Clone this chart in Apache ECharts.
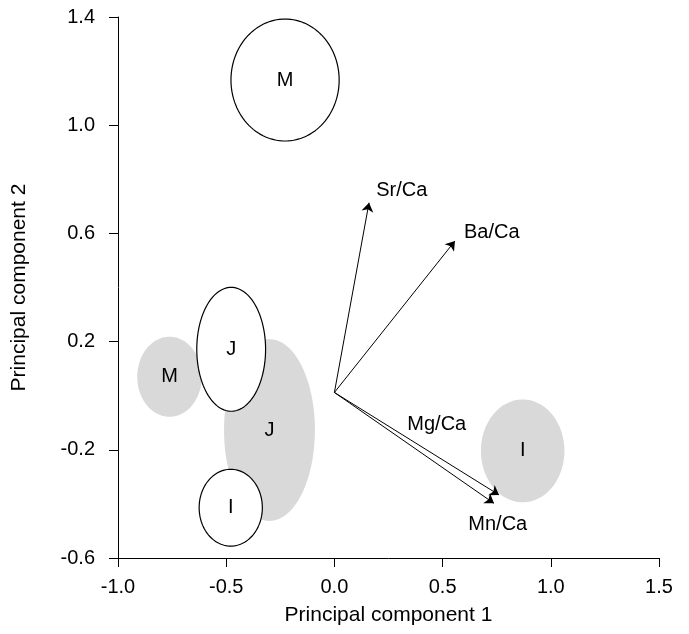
<!DOCTYPE html>
<html>
<head>
<meta charset="utf-8">
<style>
  html, body { margin: 0; padding: 0; background: #fff; }
  #chart { width: 689px; height: 634px; }
</style>
<script src="https://cdn.jsdelivr.net/npm/echarts@6/dist/echarts.min.js"></script>
</head>
<body>
<div id="chart"></div>
<script>
// ---- data ----
var xTicks = [-1.0, -0.5, 0.0, 0.5, 1.0, 1.5];
var yTicks = [-0.6, -0.2, 0.2, 0.6, 1.0, 1.4];

// group ellipses: label, centre x, centre y, radius x, radius y
var greyLabels = ['M', 'J', 'I'];
var greyCx = [-0.762, -0.300, 0.870];
var greyCy = [0.070, -0.127, -0.204];
var greyRx = [0.149, 0.210, 0.193];
var greyRy = [0.148, 0.336, 0.190];

var whiteLabels = ['M', 'J', 'I'];
var whiteCx = [-0.228, -0.477, -0.479];
var whiteCy = [1.167, 0.1715, -0.414];
var whiteRx = [0.250, 0.159, 0.146];
var whiteRy = [0.2255, 0.229, 0.142];

// loading vectors
var vecNames = ['Sr/Ca', 'Ba/Ca', 'Mg/Ca', 'Mn/Ca'];
var vecOrigin = [0, 0.012];
var vecX = [0.160, 0.557, 0.761, 0.7375];
var vecY = [0.7135, 0.572, -0.367, -0.398];
// label anchor points (data units)
var vecLabelX = [0.311, 0.727, 0.473, 0.755];
var vecLabelY = [0.760, 0.604, -0.106, -0.4755];

// ---- build ----
var font = 'Liberation Sans, Arial, sans-serif';

function ellipseData(labels, cx, cy, rx, ry) {
  return labels.map(function (l, i) { return [cx[i], cy[i], rx[i], ry[i], l]; });
}
function ellipseRender(fill, stroke) {
  return function (params, api) {
    var cx = api.value(0), cy = api.value(1), rx = api.value(2), ry = api.value(3);
    var pts = [];
    var n = 120;
    for (var k = 0; k < n; k++) {
      var t = 2 * Math.PI * k / n;
      pts.push(api.coord([cx + rx * Math.cos(t), cy + ry * Math.sin(t)]));
    }
    var c = api.coord([cx, cy]);
    return {
      type: 'group',
      children: [
        { type: 'polygon', shape: { points: pts },
          style: { fill: fill, stroke: stroke, lineWidth: 1.2 } },
        { type: 'text', x: c[0], y: c[1],
          style: { text: api.value(4), fill: '#000', fontSize: 20, fontFamily: font,
                   align: 'center', verticalAlign: 'middle' } }
      ]
    };
  };
}

var lineData = vecNames.map(function (n, i) {
  return { coords: [vecOrigin, [vecX[i], vecY[i]]] };
});
var vecLabelData = vecNames.map(function (n, i) { return [vecLabelX[i], vecLabelY[i], n]; });

var chart = echarts.init(document.getElementById('chart'));
chart.setOption({
  animation: false,
  backgroundColor: '#fff',
  grid: { left: 118, right: 30, top: 17, bottom: 76 },
  xAxis: {
    type: 'value', min: -1.0, max: 1.5,
    name: 'Principal component 1', nameLocation: 'middle', nameGap: 47,
    nameTextStyle: { color: '#000', fontSize: 21, fontFamily: font },
    axisLine: { onZero: false, lineStyle: { color: '#000', width: 1 } },
    axisTick: { show: true, length: 9, customValues: xTicks, lineStyle: { color: '#000' } },
    axisLabel: { customValues: xTicks, color: '#000', fontSize: 20, fontFamily: font, margin: 19,
                 formatter: function (v) { return v.toFixed(1); } },
    splitLine: { show: false }
  },
  yAxis: {
    type: 'value', min: -0.6, max: 1.4,
    name: 'Principal component 2', nameLocation: 'middle', nameGap: 88,
    nameTextStyle: { color: '#000', fontSize: 21, fontFamily: font },
    axisLine: { show: true, onZero: false, lineStyle: { color: '#000', width: 1 } },
    axisTick: { show: true, length: 9, customValues: yTicks, lineStyle: { color: '#000' } },
    axisLabel: { customValues: yTicks, color: '#000', fontSize: 20, fontFamily: font, margin: 23,
                 formatter: function (v) { return v.toFixed(1); } },
    splitLine: { show: false }
  },
  series: [
    { type: 'custom', renderItem: ellipseRender('#d9d9d9', null),
      data: ellipseData(greyLabels, greyCx, greyCy, greyRx, greyRy),
      encode: { x: 0, y: 1 }, z: 1, clip: false },
    { type: 'custom', renderItem: ellipseRender('#ffffff', '#000'),
      data: ellipseData(whiteLabels, whiteCx, whiteCy, whiteRx, whiteRy),
      encode: { x: 0, y: 1 }, z: 2, clip: false },
    { type: 'lines', coordinateSystem: 'cartesian2d',
      symbol: ['none', 'arrow'], symbolSize: [0, 9],
      lineStyle: { color: '#000', width: 1, opacity: 1 },
      data: lineData, z: 3 },
    { type: 'custom', z: 4,
      renderItem: function (params, api) {
        var p = api.coord([api.value(0), api.value(1)]);
        return { type: 'text', x: p[0], y: p[1],
          style: { text: api.value(2), fill: '#000', fontSize: 20, fontFamily: font,
                   align: 'center', verticalAlign: 'middle' } };
      },
      data: vecLabelData, encode: { x: 0, y: 1 } }
  ]
});
</script>
</body>
</html>
